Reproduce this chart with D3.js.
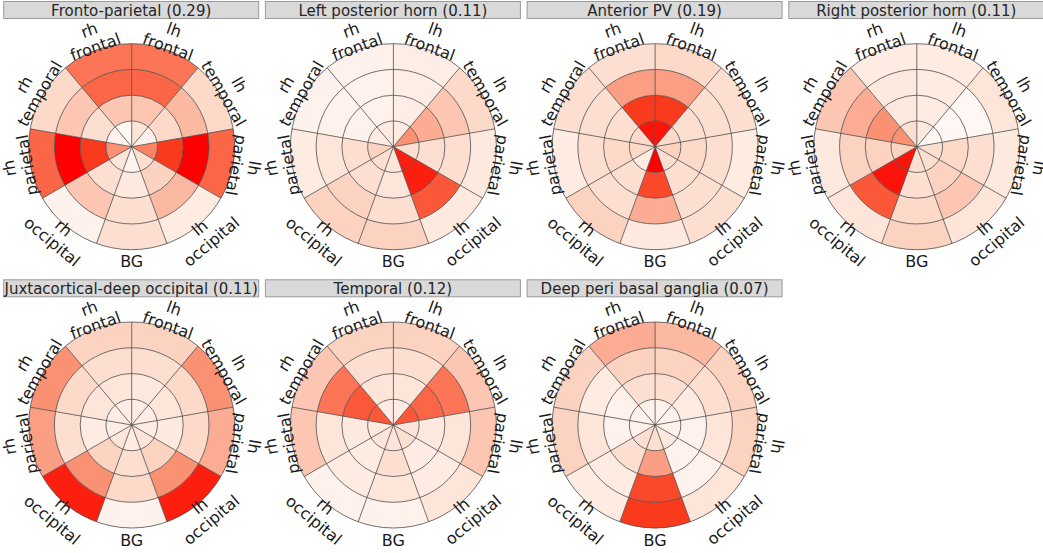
<!DOCTYPE html>
<html>
<head>
<meta charset="utf-8">
<script src="https://cdn.jsdelivr.net/npm/d3@7"></script>
<style>
  html, body { margin: 0; padding: 0; background: #ffffff; }
  svg { display: block; }
</style>
</head>
<body>
<svg id="chart" width="1043" height="553"></svg>
<script>
// ---------- data ----------
const sectors = ["lh frontal", "lh temporal", "lh parietal", "lh occipital", "BG",
                 "rh occipital", "rh parietal", "rh temporal", "rh frontal"];
const rings = ["r1", "r2", "r3", "r4"];           // inner -> outer
const panelTitles = ["Fronto-parietal (0.29)", "Left posterior horn (0.11)", "Anterior PV (0.19)",
                     "Right posterior horn (0.11)", "Juxtacortical-deep occipital (0.11)",
                     "Temporal (0.12)", "Deep peri basal ganglia (0.07)"];

// values per sector (in sector order), each [inner .. outer]
const frontoParietal = [
  [0.15, 0.35, 0.70, 0.65], [0.05, 0.25, 0.40, 0.25], [0.60, 0.85, 1.00, 0.70],
  [0.20, 0.30, 0.40, 0.10], [0.03, 0.12, 0.20, 0.20], [0.15, 0.20, 0.35, 0.05],
  [0.55, 0.85, 1.00, 0.70], [0.05, 0.20, 0.35, 0.25], [0.00, 0.35, 0.70, 0.65]];
const leftPosteriorHorn = [
  [0.10, 0.08, 0.08, 0.08], [0.55, 0.45, 0.35, 0.25], [0.20, 0.20, 0.20, 0.12],
  [0.92, 0.92, 0.75, 0.12], [0.15, 0.15, 0.20, 0.30], [0.20, 0.20, 0.30, 0.30],
  [0.30, 0.20, 0.15, 0.10], [0.10, 0.05, 0.05, 0.05], [0.10, 0.05, 0.05, 0.05]];
const anteriorPV = [
  [0.95, 0.85, 0.50, 0.25], [0.25, 0.20, 0.20, 0.20], [0.30, 0.25, 0.20, 0.10],
  [0.20, 0.20, 0.20, 0.20], [1.00, 0.80, 0.45, 0.12], [0.10, 0.20, 0.20, 0.30],
  [0.25, 0.25, 0.20, 0.10], [0.25, 0.20, 0.20, 0.20], [0.95, 0.85, 0.50, 0.20]];
const rightPosteriorHorn = [
  [0.12, 0.10, 0.10, 0.10], [0.00, 0.00, 0.00, 0.15], [0.20, 0.25, 0.20, 0.12],
  [0.20, 0.30, 0.35, 0.15], [0.20, 0.20, 0.25, 0.30], [0.95, 0.95, 0.75, 0.15],
  [0.30, 0.30, 0.30, 0.12], [0.55, 0.55, 0.45, 0.35], [0.20, 0.12, 0.12, 0.10]];
const juxtaOccipital = [
  [0.08, 0.12, 0.20, 0.30], [0.08, 0.15, 0.25, 0.55], [0.08, 0.12, 0.25, 0.45],
  [0.15, 0.30, 0.55, 0.92], [0.10, 0.20, 0.25, 0.05], [0.15, 0.30, 0.55, 0.92],
  [0.08, 0.10, 0.20, 0.50], [0.08, 0.15, 0.25, 0.55], [0.08, 0.15, 0.20, 0.30]];
const temporal = [
  [0.10, 0.15, 0.20, 0.30], [0.75, 0.70, 0.65, 0.35], [0.15, 0.12, 0.15, 0.35],
  [0.20, 0.10, 0.10, 0.15], [0.15, 0.20, 0.15, 0.05], [0.15, 0.10, 0.10, 0.05],
  [0.12, 0.12, 0.15, 0.35], [0.75, 0.75, 0.65, 0.35], [0.10, 0.15, 0.20, 0.30]];
const deepPeriBG = [
  [0.05, 0.20, 0.30, 0.40], [0.05, 0.10, 0.20, 0.30], [0.05, 0.05, 0.15, 0.30],
  [0.12, 0.05, 0.05, 0.15], [0.20, 0.50, 0.80, 0.85], [0.20, 0.20, 0.10, 0.10],
  [0.05, 0.05, 0.15, 0.30], [0.05, 0.05, 0.10, 0.30], [0.05, 0.20, 0.30, 0.45]];
const panelValues = [frontoParietal, leftPosteriorHorn, anteriorPV, rightPosteriorHorn,
                     juxtaOccipital, temporal, deepPeriBG];

// ---------- layout ----------
const svg = d3.select("#chart");
const R = 103;
const colStep = 261.7, rowStep = 278.3;
const cx0 = 131.7, cy0 = 146.7;
const stripW = 255, stripH = 17;

const angle = d3.scaleBand().domain(sectors).range([0, 2 * Math.PI]).padding(0);
const radius = d3.scaleLinear().domain([0, rings.length]).range([0, R]);
const color = d3.scaleLinear()
  .domain([0, 0.3, 0.6, 0.85, 1])
  .range(["#fff7f3", "#fcd3c1", "#fb8464", "#fa3a1c", "#ff0000"])
  .clamp(true);
const arc = d3.arc();

panelValues.forEach((vals, p) => {
  const col = p % 4, row = Math.floor(p / 4);
  const cx = cx0 + col * colStep, cy = cy0 + row * rowStep;

  // strip
  const sy = 1 + row * rowStep;
  svg.append("rect")
    .attr("x", cx - stripW / 2 - 0.5).attr("y", sy + 0.5)
    .attr("width", stripW).attr("height", stripH)
    .attr("fill", "#d9d9d9").attr("stroke", "#9a9a9a").attr("stroke-width", 1);
  svg.append("text")
    .attr("x", cx - 0.5).attr("y", sy + stripH / 2 + 1)
    .attr("text-anchor", "middle").attr("dominant-baseline", "central")
    .attr("font-family", "DejaVu Sans").attr("font-size", 15).attr("fill", "#262626")
    .text(panelTitles[p]);

  const g = svg.append("g").attr("transform", `translate(${cx},${cy})`);

  const cells = [];
  sectors.forEach((s, si) => rings.forEach((r, ri) => cells.push({ s, ri, v: vals[si][ri] })));

  g.selectAll("path.cell").data(cells).join("path")
    .attr("class", "cell")
    .attr("d", d => arc({
      innerRadius: radius(d.ri), outerRadius: radius(d.ri + 1),
      startAngle: angle(d.s), endAngle: angle(d.s) + angle.bandwidth()
    }))
    .attr("fill", d => color(d.v))
    .attr("stroke", "none");

  // ring circles
  g.selectAll("circle.ring").data(d3.range(1, rings.length + 1)).join("circle")
    .attr("r", d => radius(d))
    .attr("fill", "none").attr("stroke", "#4d4d4d").attr("stroke-width", 0.8);
  // radial lines
  g.selectAll("line.spoke").data(sectors).join("line")
    .attr("x1", 0).attr("y1", 0)
    .attr("x2", d => R * Math.sin(angle(d)))
    .attr("y2", d => -R * Math.cos(angle(d)))
    .attr("stroke", "#4d4d4d").attr("stroke-width", 0.8);

  // sector labels
  sectors.forEach(s => {
    const a = angle(s) + angle.bandwidth() / 2;
    const deg = a * 180 / Math.PI;
    const rl = R + 12;
    const x = rl * Math.sin(a), y = -rl * Math.cos(a);
    const rot = (deg > 115 && deg < 245) ? deg - 180 : deg;
    const parts = s.split(" ");
    const t = g.append("text")
      .attr("transform", `translate(${x},${y}) rotate(${rot})`)
      .attr("text-anchor", "middle")
      .attr("font-family", "DejaVu Sans").attr("font-size", 16).attr("fill", "#1a1a1a");
    const lh = 18;
    parts.forEach((w, i) => {
      t.append("tspan").attr("x", 0)
        .attr("y", (i - (parts.length - 1) / 2) * lh)
        .attr("dominant-baseline", "central")
        .text(w);
    });
  });
});
</script>
</body>
</html>
